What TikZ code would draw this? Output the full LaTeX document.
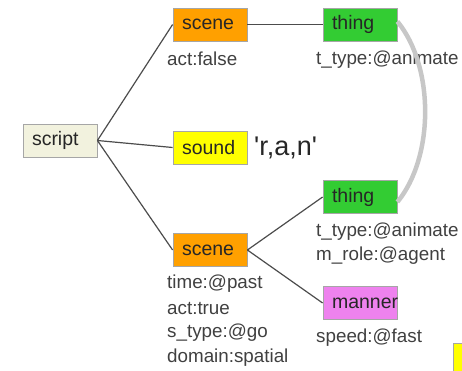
\documentclass[tikz,border=0pt]{standalone}
\usepackage{fontspec}
\setmainfont{Liberation Sans}
% same family without TeX ligature mapping, so ' stays a straight quote
\newfontfamily\plainquotes{Liberation Sans}
\begin{document}
\begin{tikzpicture}[x=1pt,y=-1pt,
  box/.style={draw=gray!70, line width=0.8pt, minimum width=74pt, minimum height=33pt,
    text width=56pt, inner xsep=9pt, inner ysep=0pt, align=left, font=\fontsize{19.5}{21}\selectfont,
    text=black!85},
  scriptbox/.style={box, fill={rgb,255:red,242;green,242;blue,222}},
  scenebox/.style={box, fill={rgb,255:red,255;green,160;blue,0}},
  thingbox/.style={box, fill={rgb,255:red,51;green,204;blue,51}},
  soundbox/.style={box, fill={rgb,255:red,255;green,255;blue,0}},
  mannerbox/.style={box, fill={rgb,255:red,238;green,130;blue,238}},
  attr/.style={anchor=west, inner sep=0pt, font=\fontsize{18.8}{20}\selectfont, text=black!75},
  link/.style={draw=black!70, line width=1.2pt},
  corefer/.style={draw=black!22, line width=4.5pt}
]
\useasboundingbox (0,0) rectangle (462,371);

% frame nodes
\node[scriptbox] (script) at (60,140.5) {script};
\node[scenebox]  (scene1) at (210,24.5) {scene};
\node[thingbox]  (thing1) at (360,24.5) {thing};
\node[soundbox]  (sound)  at (210,147.5) {sound};
\node[thingbox]  (thing2) at (360,197) {thing};
\node[scenebox]  (scene2) at (210,250) {scene};
\node[mannerbox] (manner) at (360,303) {manner};

% attribute labels
\node[attr] (a1) at (167,59) {act:false};
\node[attr] (a2) at (316,60) {t\_type:@animate};
\node[attr, font=\plainquotes\fontsize{27}{30}\selectfont, text=black!85] (word) at (254,148) {'r,a,n'};
\node[attr] (b1) at (316,232) {t\_type:@animate};
\node[attr] (b2) at (316,256) {m\_role:@agent};
\node[attr] (c1) at (316,337.5) {speed:@fast};
\node[attr] (d1) at (167,284) {time:@past};
\node[attr] (d2) at (167,308.5) {act:true};
\node[attr] (d3) at (167,333) {s\_type:@go};
\node[attr] (d4) at (167,357.5) {domain:spatial};

% co-reference arc between the two things
\draw[corefer] ([yshift=3pt]thing1.east) .. controls +(37,45) and +(37,-45) .. ([yshift=-5pt]thing2.east);

% connectors
\draw[link] (script.east) -- (scene1.west);
\draw[link] (script.east) -- (sound.west);
\draw[link] (script.east) -- (scene2.west);
\draw[link] (scene1.east) -- (thing1.west);
\draw[link] (scene2.east) -- (thing2.west);
\draw[link] (scene2.east) -- (manner.west);

% partly visible box at the lower right corner
\path[fill={rgb,255:red,255;green,255;blue,0}] (453,343) rectangle (462,371);
\draw[draw=gray!70, line width=0.8pt] (453,371) -- (453,343) -- (462,343);
\end{tikzpicture}
\end{document}
